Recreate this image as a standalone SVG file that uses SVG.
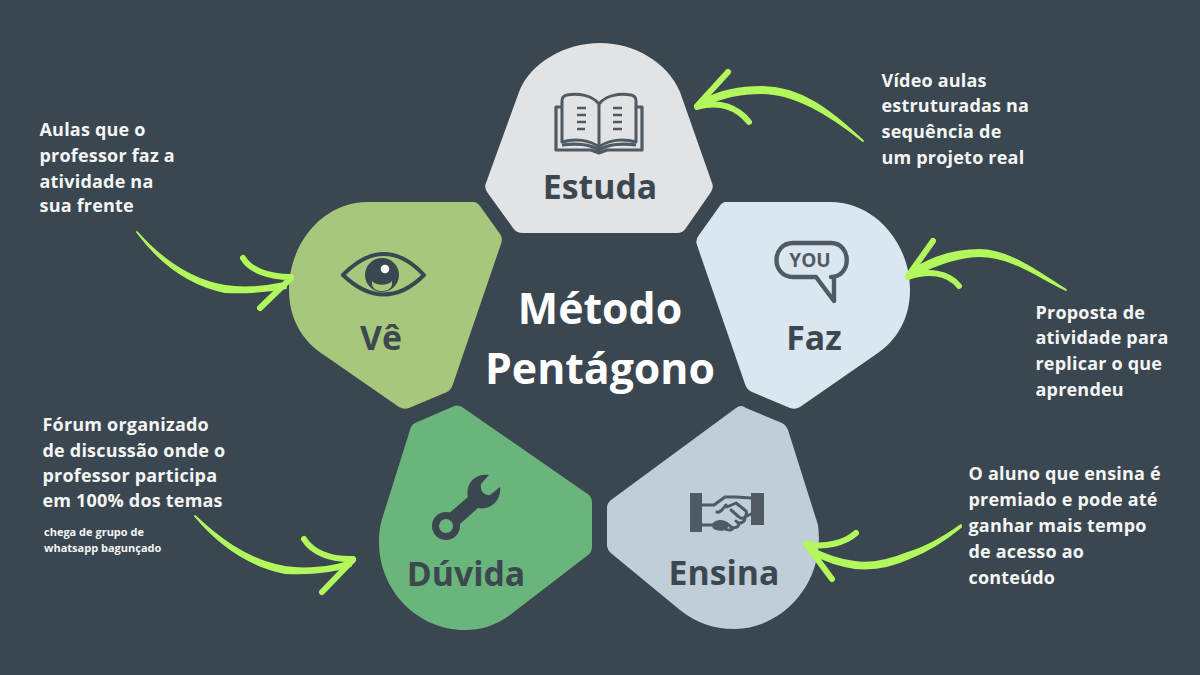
<svg xmlns="http://www.w3.org/2000/svg" width="1200" height="675" viewBox="0 0 1200 675">
<style>
text{font-family:"Open Sans","Noto Sans",sans-serif;font-weight:700}
.l{font-size:33.8px;fill:#3d4750;text-anchor:middle}
.d{font-size:18px;fill:#f4f5f5;letter-spacing:.2px}
.s{font-size:11px;fill:#f4f5f5}
.t{font-size:42.8px;fill:#fff;text-anchor:middle}
.h{fill:none;stroke:#b2f75c;stroke-width:6;stroke-linecap:round;stroke-linejoin:round}
.b{fill:#b2f75c;stroke:#b2f75c;stroke-width:1.8;stroke-linejoin:round}
.i{fill:none;stroke:#4f5a63;stroke-linejoin:round}
</style>
<rect width="1200" height="675" fill="#3b4750"/>
<g id="estuda">
<path fill="#e2e3e4" d="M523 233Q516 233 513 228L487 192Q484 187 486 183L519 92C530 63 565 43 600 43C635 43 668 63 680 92L712 183Q714 187 711 192L686 228Q683 233 677 233Z"/>
<g class="i" stroke-width="3">
<path d="M599 147V104C592 95 578 93 567 95Q562 96 562 101V142C575 138 590 140 599 147ZM599 147V104C606 95 620 93 631 95Q636 96 636 101V142C623 138 608 140 599 147Z"/>
<path stroke-width="3.2" d="M562 107H556V150H591L599 153L607 150H642V107H636M562 145C575 143 590 144 599 150C608 144 623 143 636 145"/>
<path stroke-width="2.6" d="M577 108H586M577 115H586M577 122H586M577 129H585M613 108H622M613 115H622M613 122H622M613 129H622"/>
</g>
<text class="l" x="600" y="199">Estuda</text>
</g>
<g id="faz">
<path fill="#dae6f0" d="M726 202H830C875 202 910 243 910 290C910 318 897 341 875 355L800 407Q795 410 790 408L752 392Q747 390 745 384L697 245Q695 240 699 235L719 207Q722 202 726 202Z"/>
<path class="i" stroke-width="4.4" d="M793 243H831C852 243 852 277 831 277H834V301L816 277H793C771 277 771 243 793 243Z"/>
<text x="810" y="267" font-size="19" fill="#4f5a63" text-anchor="middle">YOU</text>
<text class="l" x="814" y="350">Faz</text>
</g>
<g id="ve">
<path fill="#a6c77c" d="M368 202H473Q477 202 480 206L500 234Q503 238 501 244L453 384Q451 390 447 392L409 408Q404 410 399 407L324 355C302 341 289 318 289 290C289 243 323 202 368 202Z"/>
<path fill="none" stroke="#3b4750" stroke-width="4" stroke-linejoin="round" d="M343 275C370 247 398 247 424 275C398 301 370 301 343 275Z"/>
<circle cx="382" cy="275" r="17" fill="#3b4750"/>
<path fill="#a6c77c" d="M372 281C376 286 388 286 392 281C393 289 387 291 382 291C377 291 371 289 372 281Z"/>
<circle cx="385" cy="269" r="4.3" fill="#fff"/>
<text class="l" x="381" y="350">Vê</text>
</g>
<g id="duvida">
<path fill="#69b57b" d="M462 407L589 495Q592 498 592 503V547Q592 552 588 555L510 615C495 626 480 630 465 630C417 630 379 590 379 542C379 530 381 522 383 516L410 430Q411 425 415 423L452 407Q457 404 462 407Z"/>
<path fill="#3b4750" d="M489 475C475 473 465 484 468 497L440 521L451 532L478 508C490 511 502 500 500 487L490 495C484 496 480 491 481 484Z"/>
<circle cx="446" cy="526" r="10.5" fill="#69b57b" stroke="#3b4750" stroke-width="7"/>
<text class="l" x="466" y="586">Dúvida</text>
</g>
<g id="ensina">
<path fill="#c0ced9" d="M746 408L782 423Q786 425 788 430L818 525C826 585 780 629 735 629C712 629 695 622 680 610L612 554Q607 550 607 545V508Q607 503 611 500L736 408Q741 404 746 408Z"/>
<path fill="#4f5a63" d="M690 493H702V532H690ZM751 493H764V525H751Z"/>
<path fill="none" stroke="#4f5a63" stroke-width="3" stroke-linejoin="round" stroke-linecap="round" d="M702 505H714L725 497H736L751 498M702 525H712M751 514L745 517M727 507L736 503L746 511C748 517 742 520 739 517L731 510M726 505C722 510 720 513 717 512M745 517C745 524 738 524 736 521M739 524C738 529 731 528 730 526L726 523M733 528C732 531 727 530 725 529"/>
<path fill="#4f5a63" d="M712 525C712 520 725 517 728 524C730 530 722 532 716 530Q712 529 712 525Z"/>
<text class="l" x="724" y="585">Ensina</text>
</g>
<g id="titulo">
<text class="t" x="600" y="324">Método</text>
<text class="t" x="600" y="384">Pentágono</text>
</g>
<g id="textos">
<text class="d"><tspan x="881.5" y="87">Vídeo aulas</tspan><tspan x="881.5" y="112">estruturadas na</tspan><tspan x="881.5" y="138">sequência de</tspan><tspan x="881.5" y="164">um projeto real</tspan></text>
<text class="d"><tspan x="39.5" y="136">Aulas que o</tspan><tspan x="39.5" y="162">professor faz a</tspan><tspan x="39.5" y="188">atividade na</tspan><tspan x="39.5" y="212">sua frente</tspan></text>
<text class="d"><tspan x="1035.5" y="319">Proposta de</tspan><tspan x="1035.5" y="344">atividade para</tspan><tspan x="1035.5" y="370">replicar o que</tspan><tspan x="1035.5" y="396">aprendeu</tspan></text>
<text class="d"><tspan x="42.5" y="431">Fórum organizado</tspan><tspan x="42.5" y="457">de discussão onde o</tspan><tspan x="42.5" y="482">professor participa</tspan><tspan x="42.5" y="507">em 100% dos temas</tspan></text>
<text class="s"><tspan x="44" y="536">chega de grupo de</tspan><tspan x="44" y="552">whatsapp bagunçado</tspan></text>
<text class="d"><tspan x="968.5" y="480">O aluno que ensina é</tspan><tspan x="968.5" y="506">premiado e pode até</tspan><tspan x="968.5" y="532">ganhar mais tempo</tspan><tspan x="968.5" y="558">de acesso ao</tspan><tspan x="968.5" y="584">conteúdo</tspan></text>
</g>
<g id="conectores">
<path class="b" d="M863 141C830 110 800 87 762 87C742 87 722 90 703 100L707 105C725 95 745 93 762 93C795 93 830 115 863 141Z"/>
<path class="h" d="M728 72L697 106M697 107C720 100 738 108 749 122"/>
<path class="b" d="M1066 290C1035 270 1010 251 980 250C960 250 935 255 912 270L915 275C935 265 960 256 980 256C1010 256 1035 275 1066 290Z"/>
<path class="h" d="M933 241L908 276M908 277C928 270 948 272 959 286"/>
<path class="b" d="M137 232C160 258 190 280 225 286C245 289 265 287 285 283L286 288C265 292 245 293 225 292C190 285 160 263 137 232Z"/>
<path class="h" d="M243 258C250 270 268 277 291 277M291 278L260 308"/>
<path class="b" d="M195 516C215 535 245 560 285 567C305 570 330 568 350 561L351 566C330 573 305 574 285 573C245 565 215 540 195 516Z"/>
<path class="h" d="M304 539C312 552 330 560 353 559M353 560L322 592"/>
<path class="b" d="M961 525C940 540 925 548 907 553C890 560 870 564 855 562C840 560 825 555 812 548L810 553C825 561 840 566 855 568C875 570 895 565 910 558C930 550 945 540 961 527Z"/>
<path class="h" d="M856 533C845 543 825 548 806 544M806 544L832 579"/>
</g>
</svg>
